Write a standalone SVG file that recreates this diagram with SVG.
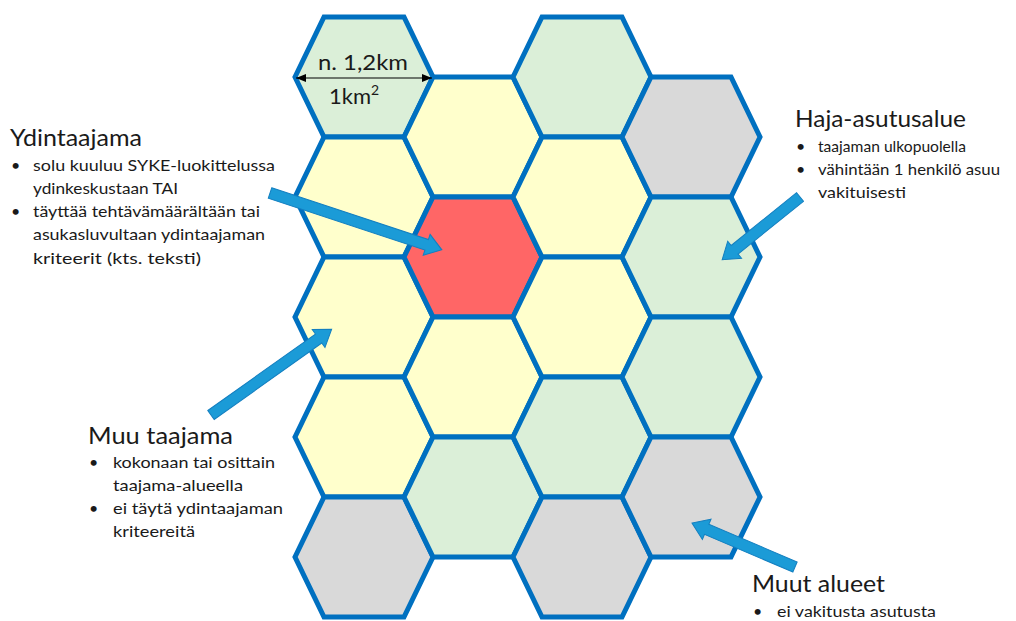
<svg xmlns="http://www.w3.org/2000/svg" xmlns:xlink="http://www.w3.org/1999/xlink" width="1016" height="621" viewBox="0 0 1016 621">
<style>
.hex{stroke:#0070C0;stroke-width:5;stroke-linejoin:miter}
.g{fill:#DBEFD8}.y{fill:#FFFFCC}.r{fill:#FF6666}.k{fill:#D9D9D9}
.arr{fill:#1B9BD7;stroke:#137FC0;stroke-width:1}
.t{font-family:Lato,"Liberation Sans",sans-serif;fill:#1a1a1a}
.h{font-size:23px}.b{font-size:16px}
</style>
<defs>
<polygon id="hx" points="-69,0 -40,-60 40,-60 69,0 40,60 -40,60"/>
<marker id="ah" markerWidth="10" markerHeight="8" refX="10" refY="4" orient="auto-start-reverse" markerUnits="userSpaceOnUse"><path d="M0,0 L10,4 L0,8 Z" fill="#000"/></marker>
</defs>
<rect width="1016" height="621" fill="#fff"/>
<g id="hexes">
<g id="c1r1"><use href="#hx" class="hex g" x="364" y="77"/></g>
<g id="c1r2"><use href="#hx" class="hex y" x="364" y="197"/></g>
<g id="c1r3"><use href="#hx" class="hex y" x="364" y="317"/></g>
<g id="c1r4"><use href="#hx" class="hex y" x="364" y="437"/></g>
<g id="c1r5"><use href="#hx" class="hex k" x="364" y="557"/></g>
<g id="c2r1"><use href="#hx" class="hex y" x="473" y="137"/></g>
<g id="c2r2"><use href="#hx" class="hex r" x="473" y="257"/></g>
<g id="c2r3"><use href="#hx" class="hex y" x="473" y="377"/></g>
<g id="c2r4"><use href="#hx" class="hex g" x="473" y="497"/></g>
<g id="c3r1"><use href="#hx" class="hex g" x="582" y="77"/></g>
<g id="c3r2"><use href="#hx" class="hex y" x="582" y="197"/></g>
<g id="c3r3"><use href="#hx" class="hex y" x="582" y="317"/></g>
<g id="c3r4"><use href="#hx" class="hex g" x="582" y="437"/></g>
<g id="c3r5"><use href="#hx" class="hex k" x="582" y="557"/></g>
<g id="c4r1"><use href="#hx" class="hex k" x="691" y="137"/></g>
<g id="c4r2"><use href="#hx" class="hex g" x="691" y="257"/></g>
<g id="c4r3"><use href="#hx" class="hex g" x="691" y="377"/></g>
<g id="c4r4"><use href="#hx" class="hex k" x="691" y="497"/></g>
</g>
<g id="dimension">
<line x1="296" y1="78" x2="432" y2="78" stroke="#000" stroke-width="1.2" marker-start="url(#ah)" marker-end="url(#ah)"/>
<text class="t" x="363" y="70" font-size="22" text-anchor="middle" textLength="90" lengthAdjust="spacingAndGlyphs">n. 1,2km</text>
<text class="t" x="329" y="104" font-size="22">1km<tspan font-size="14" dy="-9">2</tspan></text>
</g>
<g id="connectors">
<path class="arr" transform="translate(270,193) rotate(18.3)" d="M0,-5.5 H165 V-11 L181,0 L165,11 V5.5 H0 Z"/>
<path class="arr" transform="translate(800,197) rotate(141.1)" d="M0,-5.5 H84 V-11 L100,0 L84,11 V5.5 H0 Z"/>
<path class="arr" transform="translate(211,415) rotate(-35.4)" d="M0,-5.5 H132 V-11 L148,0 L132,11 V5.5 H0 Z"/>
<path class="arr" transform="translate(795,567) rotate(203.1)" d="M0,-5.5 H96 V-11 L112,0 L96,11 V5.5 H0 Z"/>
</g>
<g id="label-ydintaajama" class="t">
<text class="h" x="10" y="146" textLength="132" lengthAdjust="spacingAndGlyphs">Ydintaajama</text>
<text class="b" x="11" y="171">•</text>
<text class="b" x="33" y="171" textLength="242" lengthAdjust="spacingAndGlyphs">solu kuuluu SYKE-luokittelussa</text>
<text class="b" x="33" y="194" textLength="145" lengthAdjust="spacingAndGlyphs">ydinkeskustaan TAI</text>
<text class="b" x="11" y="217">•</text>
<text class="b" x="33" y="217" textLength="227" lengthAdjust="spacingAndGlyphs">täyttää tehtävämäärältään tai</text>
<text class="b" x="33" y="240" textLength="232" lengthAdjust="spacingAndGlyphs">asukasluvultaan ydintaajaman</text>
<text class="b" x="33" y="264" textLength="168" lengthAdjust="spacingAndGlyphs">kriteerit (kts. teksti)</text>
</g>
<g id="label-haja" class="t">
<text class="h" x="795" y="127" textLength="171" lengthAdjust="spacingAndGlyphs">Haja-asutusalue</text>
<text class="b" x="796" y="152">•</text>
<text class="b" x="818" y="152" textLength="148" lengthAdjust="spacingAndGlyphs">taajaman ulkopuolella</text>
<text class="b" x="796" y="175">•</text>
<text class="b" x="818" y="175" textLength="182" lengthAdjust="spacingAndGlyphs">vähintään 1 henkilö asuu</text>
<text class="b" x="818" y="198" textLength="88" lengthAdjust="spacingAndGlyphs">vakituisesti</text>
</g>
<g id="label-muu-taajama" class="t">
<text class="h" x="88" y="444" textLength="145" lengthAdjust="spacingAndGlyphs">Muu taajama</text>
<text class="b" x="89" y="468">•</text>
<text class="b" x="113" y="468" textLength="162" lengthAdjust="spacingAndGlyphs">kokonaan tai osittain</text>
<text class="b" x="113" y="491" textLength="130" lengthAdjust="spacingAndGlyphs">taajama-alueella</text>
<text class="b" x="89" y="514">•</text>
<text class="b" x="113" y="514" textLength="170" lengthAdjust="spacingAndGlyphs">ei täytä ydintaajaman</text>
<text class="b" x="113" y="537" textLength="82" lengthAdjust="spacingAndGlyphs">kriteereitä</text>
</g>
<g id="label-muut-alueet" class="t">
<text class="h" x="752" y="592" textLength="133" lengthAdjust="spacingAndGlyphs">Muut alueet</text>
<text class="b" x="753" y="617">•</text>
<text class="b" x="777" y="617" textLength="159" lengthAdjust="spacingAndGlyphs">ei vakitusta asutusta</text>
</g>
</svg>
